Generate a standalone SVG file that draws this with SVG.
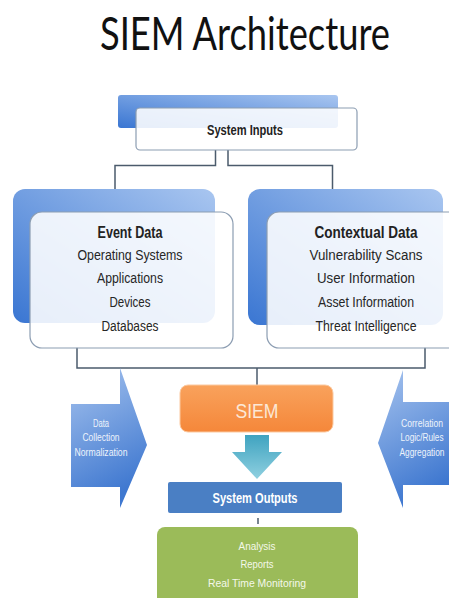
<svg xmlns="http://www.w3.org/2000/svg" width="449" height="598" viewBox="0 0 449 598">
  <defs>
    <linearGradient id="gBlue" x1="0" y1="1" x2="1" y2="0">
      <stop offset="0" stop-color="#3A76D2"/>
      <stop offset="1" stop-color="#A9C6F0"/>
    </linearGradient>
    <linearGradient id="gArrow" x1="0" y1="0" x2="0.3" y2="1">
      <stop offset="0" stop-color="#A6C3EE"/>
      <stop offset="1" stop-color="#3F78D0"/>
    </linearGradient>
    <linearGradient id="gOrange" x1="0" y1="0" x2="0" y2="1">
      <stop offset="0" stop-color="#F9A25C"/>
      <stop offset="1" stop-color="#F5873A"/>
    </linearGradient>
    <linearGradient id="gTeal" x1="0" y1="0" x2="0" y2="1">
      <stop offset="0" stop-color="#3FA3C0"/>
      <stop offset="1" stop-color="#8FD0E0"/>
    </linearGradient>
    <style>
      .title { font-family: Lato, "Liberation Sans", sans-serif; font-size: 46px; fill: #111; }
      .hd { font-family: "Liberation Sans", Arial, sans-serif; font-weight: bold; fill: #222; text-anchor: middle; }
      .tx { font-family: "Liberation Sans", Arial, sans-serif; font-size: 15.5px; fill: #262626; text-anchor: middle; }
      .sm { font-family: "Liberation Sans", Arial, sans-serif; font-size: 10.5px; fill: #EEF3FB; text-anchor: middle; }
      .gr { font-family: "Liberation Sans", Arial, sans-serif; font-size: 11.5px; fill: #F4F8EA; text-anchor: middle; }
      .card { fill: #FFFFFF; fill-opacity: 0.88; stroke: #8C9DB2; stroke-width: 1.2; }
      .wire { fill: none; stroke: #4B5B6C; stroke-width: 1.5; }
    </style>
  </defs>

  <rect width="449" height="598" fill="#FFFFFF"/>

  <text class="title" x="100" y="50" textLength="290" lengthAdjust="spacingAndGlyphs">SIEM Architecture</text>

  <!-- connectors -->
  <g id="connectors">
    <polyline class="wire" points="215.5,150 215.5,165.5 115,165.5 115,190"/>
    <polyline class="wire" points="228,150 228,165.5 332.5,165.5 332.5,190"/>
    <polyline class="wire" points="77,347 77,368 425,368 425,347"/>
    <line class="wire" x1="257" y1="368" x2="257" y2="386"/>
    <line class="wire" x1="258" y1="518" x2="258" y2="524"/>
  </g>

  <!-- system inputs -->
  <g id="system-inputs">
    <rect x="118" y="95" width="220" height="33" rx="3" fill="url(#gBlue)"/>
    <rect class="card" x="136" y="108" width="221" height="42" rx="4"/>
    <text class="hd" x="245" y="135" font-size="14" textLength="76" lengthAdjust="spacingAndGlyphs">System Inputs</text>
  </g>

  <!-- event data -->
  <g id="event-data">
    <rect x="13" y="189" width="202" height="134" rx="12" fill="url(#gBlue)"/>
    <rect class="card" x="30" y="212" width="203" height="136" rx="12"/>
    <text class="hd" x="130" y="238" font-size="16" textLength="65" lengthAdjust="spacingAndGlyphs">Event Data</text>
    <text class="tx" x="130" y="260" textLength="105" lengthAdjust="spacingAndGlyphs">Operating Systems</text>
    <text class="tx" x="130" y="283" textLength="66" lengthAdjust="spacingAndGlyphs">Applications</text>
    <text class="tx" x="130" y="307" textLength="41" lengthAdjust="spacingAndGlyphs">Devices</text>
    <text class="tx" x="130" y="331" textLength="57" lengthAdjust="spacingAndGlyphs">Databases</text>
  </g>

  <!-- contextual data -->
  <g id="contextual-data">
    <rect x="248" y="189" width="195" height="136" rx="12" fill="url(#gBlue)"/>
    <rect class="card" x="267" y="212" width="200" height="136" rx="12"/>
    <text class="hd" x="366" y="238" font-size="16" textLength="103" lengthAdjust="spacingAndGlyphs">Contextual Data</text>
    <text class="tx" x="366" y="260" textLength="113" lengthAdjust="spacingAndGlyphs">Vulnerability Scans</text>
    <text class="tx" x="366" y="283" textLength="98" lengthAdjust="spacingAndGlyphs">User Information</text>
    <text class="tx" x="366" y="307" textLength="96" lengthAdjust="spacingAndGlyphs">Asset Information</text>
    <text class="tx" x="366" y="331" textLength="101" lengthAdjust="spacingAndGlyphs">Threat Intelligence</text>
  </g>

  <!-- left side arrow -->
  <g id="collection-arrow">
    <polygon points="71,404 120,404 120,368 147,445 120,508 120,487 71,487" fill="url(#gArrow)"/>
    <text class="sm" x="101" y="427" textLength="16" lengthAdjust="spacingAndGlyphs">Data</text>
    <text class="sm" x="101" y="441" textLength="37" lengthAdjust="spacingAndGlyphs">Collection</text>
    <text class="sm" x="101" y="456" textLength="53" lengthAdjust="spacingAndGlyphs">Normalization</text>
  </g>

  <!-- right side arrow -->
  <g id="correlation-arrow">
    <polygon points="449,402 403,402 403,370 378,443 403,508 403,485 449,485" fill="url(#gArrow)"/>
    <text class="sm" x="422" y="427" textLength="42" lengthAdjust="spacingAndGlyphs">Correlation</text>
    <text class="sm" x="422" y="441" textLength="43" lengthAdjust="spacingAndGlyphs">Logic/Rules</text>
    <text class="sm" x="422" y="456" textLength="45" lengthAdjust="spacingAndGlyphs">Aggregation</text>
  </g>

  <!-- SIEM core -->
  <g id="siem">
    <rect x="180" y="385" width="153" height="47" rx="8" fill="url(#gOrange)" stroke="#FBC9A0" stroke-width="1"/>
    <text x="257" y="418" font-family="'Liberation Sans', Arial, sans-serif" font-size="21" fill="#FCE8D6" text-anchor="middle" textLength="43" lengthAdjust="spacingAndGlyphs">SIEM</text>
  </g>

  <!-- output arrow -->
  <g id="output-arrow">
    <polygon points="245,435 269,435 269,452 282,452 257,479 232,452 245,452" fill="url(#gTeal)"/>
  </g>

  <!-- system outputs -->
  <g id="system-outputs">
    <rect x="168" y="482" width="174" height="31" rx="2" fill="#4A7FC4"/>
    <text class="hd" x="255" y="503" font-size="14" style="fill:#FFFFFF" textLength="85" lengthAdjust="spacingAndGlyphs">System Outputs</text>
  </g>

  <!-- results -->
  <g id="results">
    <rect x="157" y="527" width="201" height="80" rx="8" fill="#9BBB59"/>
    <text class="gr" x="257" y="550" textLength="37" lengthAdjust="spacingAndGlyphs">Analysis</text>
    <text class="gr" x="257" y="568" textLength="33" lengthAdjust="spacingAndGlyphs">Reports</text>
    <text class="gr" x="257" y="587" textLength="98" lengthAdjust="spacingAndGlyphs">Real Time Monitoring</text>
  </g>
</svg>
